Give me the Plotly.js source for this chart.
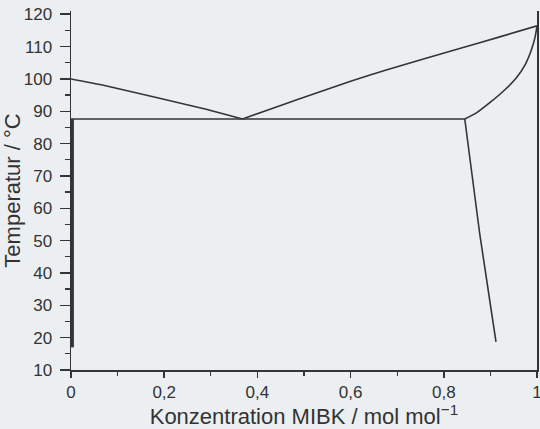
<!DOCTYPE html>
<html>
<head>
<meta charset="utf-8">
<script src="https://cdn.plot.ly/plotly-3.0.1.min.js"></script>
<style>
  html, body { margin: 0; padding: 0; background: #eceff1; }
  #chart { width: 540px; height: 429px; }
</style>
</head>
<body>
<div id="chart"></div>
<script>
// Dew line, water-rich branch (x MIBK, T in °C)
var dewLeftX = [0, 0.065, 0.19, 0.29, 0.368];
var dewLeftT = [100, 98.2, 94.0, 90.6, 87.6];
// Dew line, MIBK-rich branch
var dewRightX = [0.368, 0.45, 0.522, 0.6, 0.68, 0.76, 0.834, 0.92, 1];
var dewRightT = [87.6, 91.8, 95.4, 99.3, 102.9, 106.3, 109.4, 113.0, 116.4];
// Three-phase (heteroazeotrope) line
var threePhaseX = [0, 0.845];
var threePhaseT = [87.6, 87.6];
// Bubble line, MIBK-rich side
var bubbleX = [0.845, 0.87, 0.9, 0.93, 0.955, 0.975, 0.988, 0.996, 1];
var bubbleT = [87.6, 89.5, 92.8, 96.5, 100.2, 104.5, 109, 113, 116.4];
// Solubility of water in MIBK
var solMibkX = [0.845, 0.877, 0.912];
var solMibkT = [87.6, 52.2, 18.7];
// Solubility of MIBK in water (almost pure water)
var solWaterX = [0.003, 0.003];
var solWaterT = [17, 87.6];

var ink = '#343434';
function line(x, y, shape, w, sm) {
  return {
    x: x, y: y, type: 'scatter', mode: 'lines',
    line: {color: ink, width: w || 1.6, shape: shape || 'linear', smoothing: sm || 0.5},
    hoverinfo: 'skip', showlegend: false
  };
}

var data = [
  line(dewLeftX, dewLeftT, 'spline', 1.6, 0.3),
  line(dewRightX, dewRightT, 'spline', 1.6, 0.3),
  line(threePhaseX, threePhaseT),
  line(bubbleX, bubbleT, 'spline', 1.6, 0.6),
  line(solMibkX, solMibkT, 'spline', 1.6, 0.5),
  line(solWaterX, solWaterT, 'linear', 3)
];

var fontFam = '"Liberation Sans", Arial, Helvetica, sans-serif';
var txt = '#333333';
var layout = {
  width: 540, height: 429,
  margin: {l: 71, r: 3, t: 11, b: 59},
  paper_bgcolor: '#eceff1',
  plot_bgcolor: '#eceff1',
  separators: ',.',
  font: {family: fontFam, color: txt, size: 17},
  showlegend: false,
  xaxis: {
    range: [0, 1], dtick: 0.2, tick0: 0,
    showgrid: false, zeroline: false,
    showline: true, linecolor: ink, linewidth: 1.5,
    ticks: 'outside', ticklen: 6, tickwidth: 1.5, tickcolor: ink,
    minor: {dtick: 0.1, ticks: 'outside', ticklen: 4, tickwidth: 1.3, tickcolor: ink, showgrid: false},
    tickfont: {size: 17, color: txt},
    ticklabeloverflow: 'allow',
    title: {text: 'Konzentration MIBK / mol mol<sup>−1</sup>', font: {size: 22, color: txt}, standoff: 10}
  },
  yaxis: {
    range: [10, 121], dtick: 10, tick0: 10,
    showgrid: false, zeroline: false,
    showline: true, linecolor: ink, linewidth: 1.5, mirror: true,
    ticks: 'outside', ticklen: 10, tickwidth: 1.5, tickcolor: ink,
    minor: {dtick: 5, ticks: 'outside', ticklen: 5, tickwidth: 1.3, tickcolor: ink, showgrid: false},
    tickfont: {size: 17, color: txt},
    ticklabelstandoff: 4,
    title: {text: 'Temperatur / °C', font: {size: 22, color: txt}, standoff: 3}
  }
};

Plotly.newPlot('chart', data, layout, {displayModeBar: false, staticPlot: true});
</script>
</body>
</html>
